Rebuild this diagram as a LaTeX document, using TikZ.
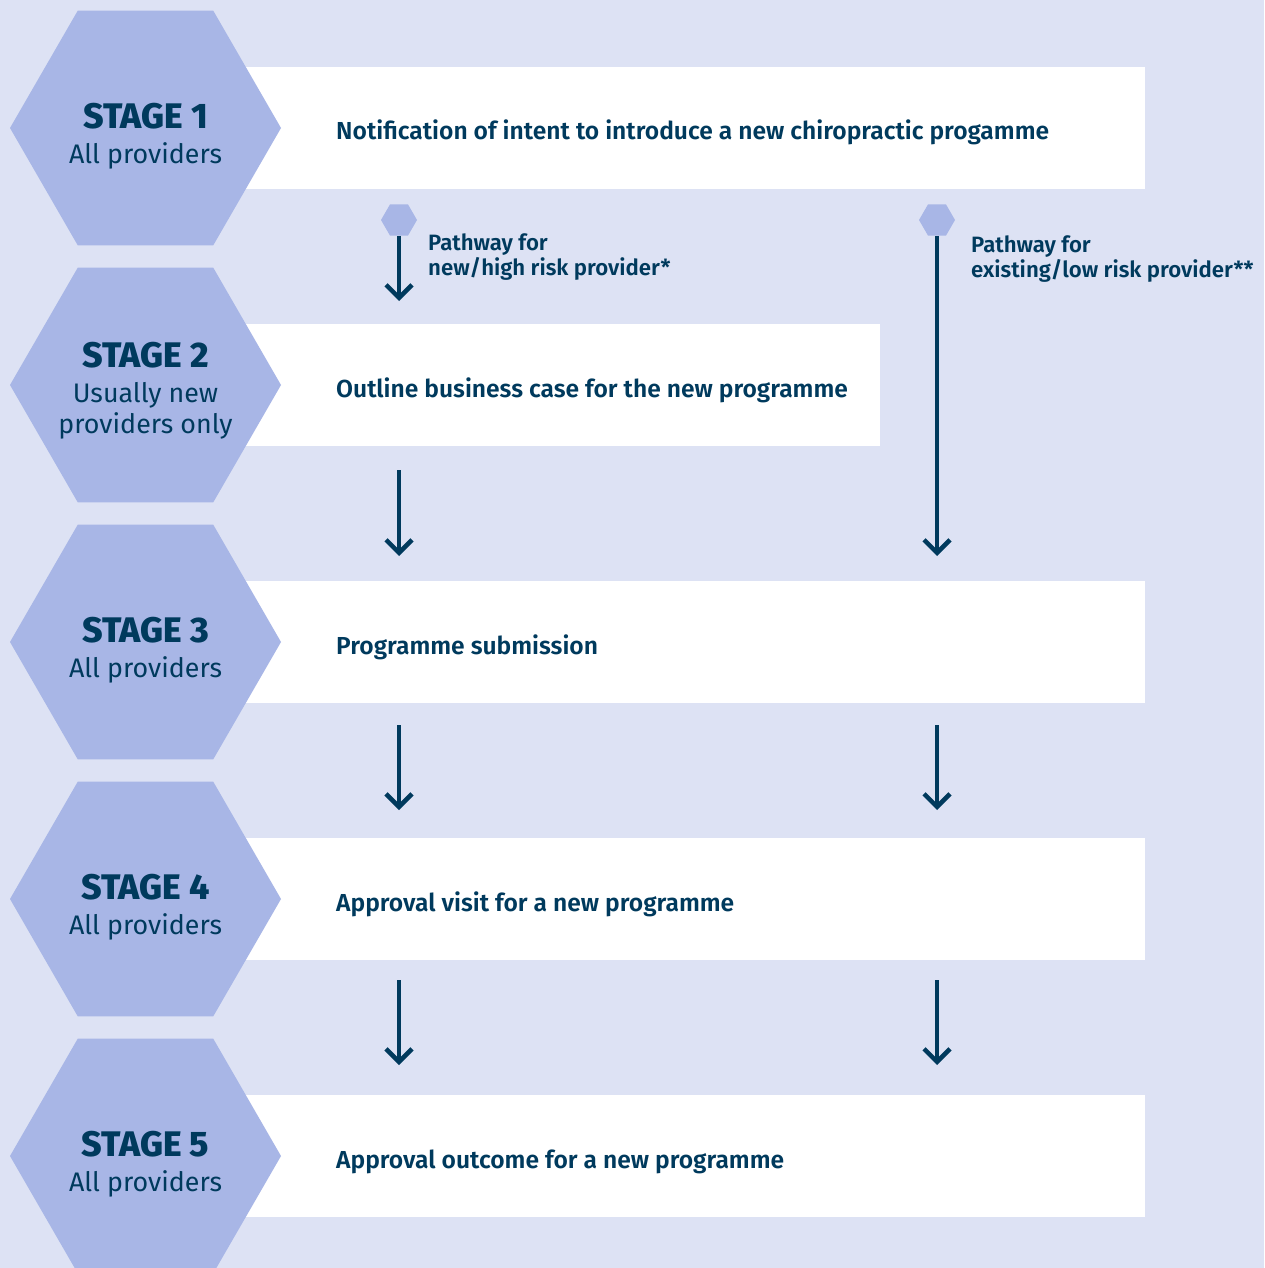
\documentclass[tikz,border=0pt]{standalone}
\usepackage{fontspec}
\setmainfont{Fira Sans}
\newfontfamily\sbfont{Fira Sans SemiBold}
\newfontfamily\hvfont{Fira Sans ExtraBold}
\usetikzlibrary{shapes.geometric,arrows.meta}
\definecolor{bgc}{HTML}{DDE2F4}
\definecolor{hexc}{HTML}{A8B6E6}
\definecolor{navy}{HTML}{003A5D}
\begin{document}
\begin{tikzpicture}[x=1pt,y=-1pt,
  hexa/.style={regular polygon, regular polygon sides=6, fill=hexc, inner sep=0pt, minimum size=271pt},
  minihex/.style={regular polygon, regular polygon sides=6, fill=hexc, inner sep=0pt, minimum size=36pt},
  wbox/.style={fill=white, inner sep=0pt, minimum height=122pt, anchor=west},
  stagehead/.style={anchor=base, text=navy, inner sep=0pt, font=\hvfont\fontsize{35.5}{38}\selectfont},
  stagesub/.style={anchor=base, text=navy, inner sep=0pt, font=\fontsize{26.8}{30}\selectfont},
  maintxt/.style={anchor=base west, text=navy, inner sep=0pt, font=\sbfont\fontsize{24.6}{28}\selectfont},
  pathtxt/.style={anchor=base west, text=navy, inner sep=0pt, align=left, font=\sbfont\fontsize{22.2}{25}\selectfont},
  flow/.style={draw=navy, line width=4.5pt, -{Straight Barb[length=13pt,width=26pt]}},
]
\useasboundingbox (0,0) rectangle (1264,1268);
\fill[bgc] (0,0) rectangle (1264,1268);

% white boxes
\node[wbox, minimum width=900pt] (b1) at (245,128) {};
\node[wbox, minimum width=635pt] (b2) at (245,385) {};
\node[wbox, minimum width=900pt] (b3) at (245,642) {};
\node[wbox, minimum width=900pt] (b4) at (245,899) {};
\node[wbox, minimum width=900pt] (b5) at (245,1156) {};

% hexagons
\node[hexa] (h1) at (145.5,128) {};
\node[hexa] (h2) at (145.5,385) {};
\node[hexa] (h3) at (145.5,642) {};
\node[hexa] (h4) at (145.5,899) {};
\node[hexa] (h5) at (145.5,1156) {};

% stage labels
\node[stagehead] (s1) at (145.5,128.8) {STAGE 1};
\node[stagesub] (s1s) at (145.5,163.2) {All providers};
\node[stagehead] (s2) at (145.5,367.2) {STAGE 2};
\node[stagesub] (s2s) at (145.5,402.2) {Usually new};
\node[stagesub] (s2t) at (145.5,433.5) {providers only};
\node[stagehead] (s3) at (145.5,642.8) {STAGE 3};
\node[stagesub] (s3s) at (145.5,677.2) {All providers};
\node[stagehead] (s4) at (145.5,899.8) {STAGE 4};
\node[stagesub] (s4s) at (145.5,934.2) {All providers};
\node[stagehead] (s5) at (145.5,1156.8) {STAGE 5};
\node[stagesub] (s5s) at (145.5,1191.2) {All providers};

% main texts
\node[maintxt] (t1) at (336,140) {Notification of intent to introduce a new chiropractic progamme};
\node[maintxt] (t2) at (336,397) {Outline business case for the new programme};
\node[maintxt] (t3) at (336,654) {Programme submission};
\node[maintxt] (t4) at (336,911) {Approval visit for a new programme};
\node[maintxt] (t5) at (336,1168) {Approval outcome for a new programme};

% pathway markers
\node[minihex] (pa) at (399,220) {};
\node[minihex] (pb) at (937,220) {};
\node[pathtxt] (pta) at (428,275) {Pathway for\\new/high risk provider*};
\node[pathtxt] (ptb) at (971,277) {Pathway for\\existing/low risk provider**};

% arrow coordinates
\coordinate (a1e) at (399,301);
\coordinate (a2s) at (399,470); \coordinate (a2e) at (399,556);
\coordinate (a3s) at (399,725); \coordinate (a3e) at (399,810);
\coordinate (a4s) at (399,980); \coordinate (a4e) at (399,1065);
\coordinate (c1e) at (937,556);
\coordinate (c3s) at (937,725); \coordinate (c3e) at (937,810);
\coordinate (c4s) at (937,980); \coordinate (c4e) at (937,1065);

\draw[flow] (pa.south) -- (a1e);
\draw[flow] (a2s) -- (a2e);
\draw[flow] (a3s) -- (a3e);
\draw[flow] (a4s) -- (a4e);
\draw[flow] (pb.south) -- (c1e);
\draw[flow] (c3s) -- (c3e);
\draw[flow] (c4s) -- (c4e);
\end{tikzpicture}
\end{document}
